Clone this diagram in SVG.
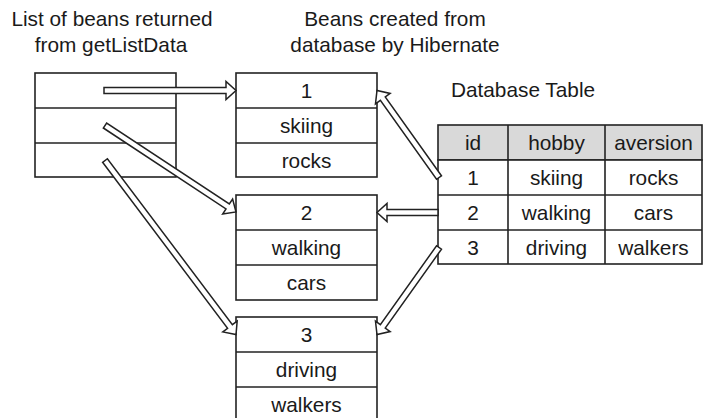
<svg xmlns="http://www.w3.org/2000/svg" width="703" height="418" viewBox="0 0 703 418">
<style>
text{font-family:"Liberation Sans",Arial,sans-serif;font-size:20.8px;fill:#1a1a1a;text-anchor:middle}
.box{fill:#fff;stroke:#222;stroke-width:1.6}
.ln{stroke:#222;stroke-width:1.6}
.hdr{fill:#d9d9d9;stroke:#222;stroke-width:1.6}
.arr{fill:#fff;stroke:#222;stroke-width:1.5;stroke-linejoin:miter}
</style>
<rect width="703" height="418" fill="#fff"/>
<g id="labels">
<text x="112" y="26">List of beans returned</text>
<text x="111" y="52">from getListData</text>
<text x="395" y="26">Beans created from</text>
<text x="395" y="52">database by Hibernate</text>
<text x="523" y="97">Database Table</text>
</g>
<g id="list">
<rect class="box" x="35" y="73" width="141" height="104"/>
<line class="ln" x1="35" y1="108" x2="176" y2="108"/>
<line class="ln" x1="35" y1="143" x2="176" y2="143"/>
</g>
<g id="bean1">
<rect class="box" x="236" y="73" width="141" height="104"/>
<line class="ln" x1="236" y1="108" x2="377" y2="108"/>
<line class="ln" x1="236" y1="143" x2="377" y2="143"/>
<text x="306.5" y="98">1</text>
<text x="306.5" y="133">skiing</text>
<text x="306.5" y="168">rocks</text>
</g>
<g id="bean2">
<rect class="box" x="236" y="195" width="141" height="105"/>
<line class="ln" x1="236" y1="230" x2="377" y2="230"/>
<line class="ln" x1="236" y1="265" x2="377" y2="265"/>
<text x="306.5" y="220">2</text>
<text x="306.5" y="255">walking</text>
<text x="306.5" y="290">cars</text>
</g>
<g id="bean3">
<rect class="box" x="236" y="317" width="141" height="106"/>
<line class="ln" x1="236" y1="352" x2="377" y2="352"/>
<line class="ln" x1="236" y1="387" x2="377" y2="387"/>
<text x="306.5" y="342">3</text>
<text x="306.5" y="377">driving</text>
<text x="306.5" y="412">walkers</text>
</g>
<g id="table">
<rect class="hdr" x="438" y="125" width="264" height="35"/>
<rect class="box" x="438" y="160" width="264" height="104"/>
<line class="ln" x1="438" y1="195" x2="702" y2="195"/>
<line class="ln" x1="438" y1="230" x2="702" y2="230"/>
<line class="ln" x1="508" y1="125" x2="508" y2="264"/>
<line class="ln" x1="605" y1="125" x2="605" y2="264"/>
<text x="473" y="150">id</text>
<text x="556.5" y="150">hobby</text>
<text x="653.5" y="150">aversion</text>
<text x="473" y="185">1</text>
<text x="556.5" y="185">skiing</text>
<text x="653.5" y="185">rocks</text>
<text x="473" y="220">2</text>
<text x="556.5" y="220">walking</text>
<text x="653.5" y="220">cars</text>
<text x="473" y="255">3</text>
<text x="556.5" y="255">driving</text>
<text x="653.5" y="255">walkers</text>
</g>
<g id="connectors">
<polygon class="arr" points="104,87.5 226,87.5 226,81.5 236,90.5 226,99.5 226,93.5 104,93.5"/>
<polygon class="arr" points="103.35,128 226,208.99 222.7,214 236,212 232.61,198.98 229.31,203.99 106.65,123"/>
<polygon class="arr" points="102.6,162.3 227.59,328.32 222.8,331.92 236,334.5 237.18,321.1 232.38,324.71 107.4,158.7"/>
<polygon class="arr" points="441.44,175.76 385.25,96.9 390.13,93.42 377,90.5 375.47,103.87 380.36,100.39 436.56,179.24"/>
<polygon class="arr" points="438,209.5 387,209.5 387,203.5 377,212.5 387,221.5 387,215.5 438,215.5"/>
<polygon class="arr" points="441.44,249.24 385.25,328.1 390.13,331.58 377,334.5 375.47,321.13 380.36,324.62 436.56,245.76"/>
</g>
</svg>
